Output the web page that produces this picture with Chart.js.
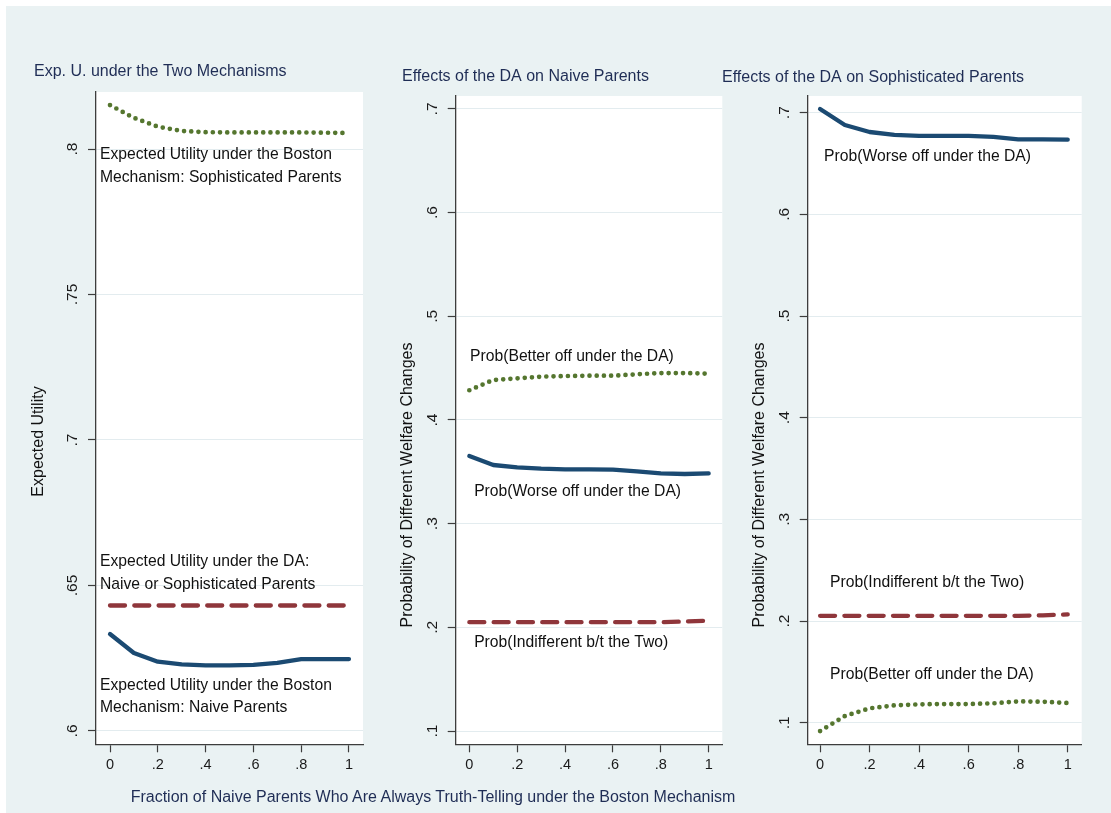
<!DOCTYPE html>
<html>
<head>
<meta charset="utf-8">
<script src="https://cdn.jsdelivr.net/npm/chart.js@4.4.0/dist/chart.umd.min.js"></script>
<style>
  html, body { margin: 0; padding: 0; background: #fff; }
  #bg { position: absolute; left: 6px; top: 6px; width: 1105px; height: 807px; background: #eaf2f3; }
  canvas { position: absolute; top: 6px; }
  #xtitle { position: absolute; left: 0; width: 866px; top: 788px; text-align: center;
            font: 16px "Liberation Sans", Arial, sans-serif; color: #1f2d55; white-space: nowrap; }
</style>
</head>
<body>
<div id="bg"></div>
<canvas id="c1" width="364" height="790" style="left:6px"></canvas>
<canvas id="c2" width="360" height="790" style="left:370px"></canvas>
<canvas id="c3" width="396" height="790" style="left:715px"></canvas>
<div id="xtitle">Fraction of Naive Parents Who Are Always Truth-Telling under the Boston Mechanism</div>
<script>
// fraction of naive parents who are truth-telling
const xVals = [0, .1, .2, .3, .4, .5, .6, .7, .8, .9, 1];
const xTicks = [0, .2, .4, .6, .8, 1];
const xTickLabels = ['0', '.2', '.4', '.6', '.8', '1'];

// panel 1: expected utility
const euBostonSoph  = [.8151, .8107, .8077, .8062, .8058, .8057, .8057, .8057, .8057, .8056, .8055];
const euDA          = [.6431, .6431, .6431, .6431, .6431, .6431, .6431, .6431, .6431, .6431, .6431];
const euBostonNaive = [.6333, .6268, .6238, .6229, .6225, .6225, .6227, .6234, .6247, .6247, .6247];
const euTicks = [.6, .65, .7, .75, .8];
const euTickLabels = ['.6', '.65', '.7', '.75', '.8'];

// panel 2: naive parents
const naiveBetter = [.4287, .4386, .4402, .4418, .4424, .4427, .4427, .4441, .4453, .4453, .4447];
const naiveWorse  = [.3653, .3566, .3544, .3530, .3524, .3524, .3521, .3505, .3486, .3479, .3486];
const naiveIndiff = [.2050, .2050, .2050, .2050, .2050, .2050, .2050, .2050, .2050, .2056, .2064];

// panel 3: sophisticated parents
const sophWorse  = [.7036, .6879, .6810, .6781, .6771, .6771, .6771, .6761, .6738, .6738, .6734];
const sophIndiff = [.2052, .2052, .2052, .2052, .2052, .2052, .2052, .2052, .2052, .2056, .2066];
const sophBetter = [.0918, .1066, .1142, .1171, .1181, .1184, .1184, .1191, .1210, .1207, .1194];

const probTicks = [.1, .2, .3, .4, .5, .6, .7];
const probTickLabels = ['.1', '.2', '.3', '.4', '.5', '.6', '.7'];

const FONT = '"Liberation Sans", Arial, sans-serif';
const TITLE_C = '#1f2d55';
const AXIS_C = '#3d3d3d';
const GRID_C = '#e3ecef';
const TEXT_C = '#111';

const dotted = { borderColor: '#55762f', borderWidth: 4.7, borderDash: [0, 7.2], borderCapStyle: 'round' };
const solid  = { borderColor: '#1b4a72', borderWidth: 4.3, borderDash: [], borderCapStyle: 'round', borderJoinStyle: 'round' };
const dashed = { borderColor: '#8f363b', borderWidth: 4.3, borderDash: [15, 9.3], borderCapStyle: 'round' };

const plotBg = {
  id: 'plotBg',
  beforeDraw(chart) {
    const a = chart.chartArea, ctx = chart.ctx;
    ctx.save();
    ctx.fillStyle = '#fff';
    ctx.fillRect(a.left, a.top, a.right - a.left, a.bottom - a.top);
    ctx.restore();
  }
};

const panelText = {
  id: 'panelText',
  afterDraw(chart, args, o) {
    const ctx = chart.ctx, sx = chart.scales.x, sy = chart.scales.y;
    ctx.save();
    ctx.fillStyle = TEXT_C;
    ctx.font = '15.7px ' + FONT;
    ctx.textAlign = 'left';
    ctx.textBaseline = 'middle';
    o.notes.forEach(n => n.lines.forEach((t, i) => {
      ctx.fillText(t, sx.getPixelForValue(n.x), sy.getPixelForValue(n.y) + i * 22.5);
    }));
    ctx.translate(o.yTitle.x, o.yTitle.y);
    ctx.rotate(-Math.PI / 2);
    ctx.font = '16px ' + FONT;
    ctx.textAlign = 'center';
    ctx.fillText(o.yTitle.text, 0, 0);
    ctx.restore();
  }
};

function makePanel(id, p) {
  return new Chart(document.getElementById(id), {
    type: 'line',
    data: {
      datasets: p.series.map(s => Object.assign({
        data: xVals.map((x, i) => ({ x: x, y: s.values[i] })),
        pointRadius: 0, tension: 0, fill: false
      }, s.style))
    },
    options: {
      responsive: false,
      animation: false,
      events: [],
      layout: { padding: { left: p.padLeft, right: p.padRight, top: 0, bottom: 0 } },
      plugins: {
        legend: { display: false },
        tooltip: { enabled: false },
        title: {
          display: true, text: p.title, align: 'start', color: TITLE_C,
          font: { family: FONT, size: 16, weight: 'normal' },
          padding: { top: p.titleTop, bottom: p.titleBottom }
        },
        panelText: { notes: p.notes, yTitle: p.yTitle }
      },
      scales: {
        x: {
          type: 'linear', min: p.xMin, max: p.xMax,
          afterBuildTicks: s => { s.ticks = xTicks.map(v => ({ value: v })); },
          afterFit: s => { s.height = p.xHeight; },
          ticks: {
            callback: (v, i) => xTickLabels[i], color: '#1a1a1a', padding: 4,
            maxRotation: 0, autoSkip: false, font: { family: FONT, size: 14.5 }
          },
          grid: { drawOnChartArea: false, drawTicks: true, tickLength: 8, tickColor: AXIS_C, tickWidth: 1.2 },
          border: { display: true, color: AXIS_C, width: 1.3 }
        },
        y: {
          min: p.yMin, max: p.yMax,
          afterBuildTicks: s => { s.ticks = p.yTicks.map(v => ({ value: v })); },
          afterFit: s => { s.width = p.yWidth; },
          ticks: {
            callback: (v, i) => p.yTickLabels[i], color: '#1a1a1a', padding: p.yTickPad,
            minRotation: 90, maxRotation: 90, crossAlign: 'center', autoSkip: false,
            font: { family: FONT, size: 15.5 }
          },
          grid: { color: GRID_C, lineWidth: 1, drawTicks: true, tickLength: 8, tickColor: AXIS_C, tickWidth: 1.2 },
          border: { display: true, color: AXIS_C, width: 1.3 }
        }
      }
    },
    plugins: [plotBg, panelText]
  });
}

makePanel('c1', {
  title: 'Exp. U. under the Two Mechanisms',
  padLeft: 28, padRight: 7, titleTop: 56.4, titleBottom: 10.4,
  yWidth: 62, xHeight: 51.7, yTickPad: 4.7,
  xMin: -0.0586, xMax: 1.0586, yMin: .5954, yMax: .8196,
  yTicks: euTicks, yTickLabels: euTickLabels,
  yTitle: { text: 'Expected Utility', x: 33, y: 435.5 },
  series: [
    { values: euBostonSoph, style: dotted },
    { values: euDA, style: dashed },
    { values: euBostonNaive, style: solid }
  ],
  notes: [
    { x: -0.042, y: .7979, lines: ['Expected Utility under the Boston', 'Mechanism: Sophisticated Parents'] },
    { x: -0.042, y: .6580, lines: ['Expected Utility under the DA:', 'Naive or Sophisticated Parents'] },
    { x: -0.042, y: .6157, lines: ['Expected Utility under the Boston', 'Mechanism: Naive Parents'] }
  ]
});

makePanel('c2', {
  title: 'Effects of the DA on Naive Parents',
  padLeft: 32, padRight: 7.7, titleTop: 60.9, titleBottom: 9.9,
  yWidth: 53.7, xHeight: 51.7, yTickPad: 8.7,
  xMin: -0.057, xMax: 1.057, yMin: .0872, yMax: .7125,
  yTicks: probTicks, yTickLabels: probTickLabels,
  yTitle: { text: 'Probability of Different Welfare Changes', x: 37.7, y: 479 },
  series: [
    { values: naiveBetter, style: dotted },
    { values: naiveWorse, style: solid },
    { values: naiveIndiff, style: dashed }
  ],
  notes: [
    { x: 0.003, y: .4611, lines: ['Prob(Better off under the DA)'] },
    { x: 0.02, y: .3308, lines: ['Prob(Worse off under the DA)'] },
    { x: 0.02, y: .1849, lines: ['Prob(Indifferent b/t the Two)'] }
  ]
});

makePanel('c3', {
  title: 'Effects of the DA on Sophisticated Parents',
  padLeft: 7, padRight: 29.3, titleTop: 61.9, titleBottom: 8.9,
  yWidth: 85.7, xHeight: 51.7, yTickPad: 9.0,
  xMin: -0.05, xMax: 1.0565, yMin: .0788, yMax: .7164,
  yTicks: probTicks, yTickLabels: probTickLabels,
  yTitle: { text: 'Probability of Different Welfare Changes', x: 44.2, y: 479 },
  series: [
    { values: sophWorse, style: solid },
    { values: sophIndiff, style: dashed },
    { values: sophBetter, style: dotted }
  ],
  notes: [
    { x: 0.016, y: .6564, lines: ['Prob(Worse off under the DA)'] },
    { x: 0.04, y: .2377, lines: ['Prob(Indifferent b/t the Two)'] },
    { x: 0.04, y: .1469, lines: ['Prob(Better off under the DA)'] }
  ]
});
</script>
</body>
</html>
